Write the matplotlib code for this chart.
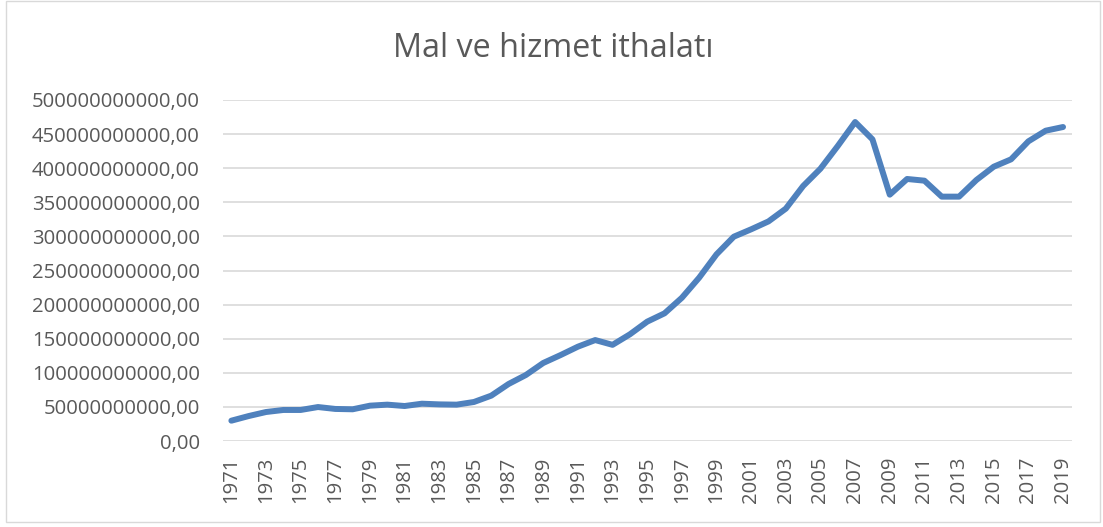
import matplotlib
matplotlib.use("Agg")
import matplotlib.pyplot as plt
from matplotlib.patches import Rectangle
from matplotlib.ticker import FuncFormatter, FixedLocator

years = list(range(1971, 2020))
imports_bn = [
    29.8, 36.6, 42.5, 45.5, 45.5, 49.8, 47.0, 46.5, 51.8, 53.3,
    51.3, 54.7, 53.7, 53.3, 57.2, 66.5, 83.6, 96.8, 114.4, 126.0,
    138.3, 148.0, 141.0, 156.4, 175.0, 187.2, 210.0, 239.5, 273.7, 299.6,
    310.4, 322.0, 340.7, 373.9, 399.3, 432.6, 467.7, 442.3, 361.2, 384.2,
    381.7, 358.3, 358.3, 382.7, 402.2, 413.0, 439.4, 455.0, 460.4,
]
values = [v * 1e9 for v in imports_bn]
title = "Mal ve hizmet ithalatı"
y_ticks = [i * 50e9 for i in range(11)]

plt.rcParams['font.family'] = ['Open Sans', 'DejaVu Sans']
W, H = 1103, 527
fig = plt.figure(figsize=(W / 100, H / 100), dpi=100)

# chart border
fig.patches.append(Rectangle((6 / W, 1 - 522 / H), (1100 - 6) / W, (522 - 1) / H,
                             transform=fig.transFigure, fill=False,
                             edgecolor='#D9D9D9', linewidth=1.0))

left, right, top, bottom = 222.7, 1071.7, 100, 441
ax = fig.add_axes([left / W, 1 - bottom / H, (right - left) / W, (bottom - top) / H])

x = list(range(len(years)))
ax.plot(x, values, color='#4F81BD', linewidth=4.3, solid_joinstyle='round',
        solid_capstyle='round', zorder=3)

ax.set_xlim(-0.5, len(years) - 0.5)
ax.set_ylim(0, 500e9)
ax.yaxis.set_major_locator(FixedLocator(y_ticks))
ax.yaxis.set_major_formatter(FuncFormatter(lambda v, p: f"{v:.2f}".replace('.', ',')))
ax.set_xticks(x[::2])
ax.set_xticklabels([str(y) for y in years[::2]], rotation=90)

ax.grid(axis='y', color='#D9D9D9', linewidth=1.2)
ax.set_axisbelow(True)
for s in ax.spines.values():
    s.set_visible(False)
ax.tick_params(axis='both', length=0, labelcolor='#595959', labelsize=14.6)
ax.tick_params(axis='y', pad=16.5)
ax.tick_params(axis='x', pad=11)

fig.text(553 / W, 1 - 57 / H, title, ha='center', va='baseline',
         fontsize=23.3, color='#595959')

fig.savefig('out.png', dpi=100)
